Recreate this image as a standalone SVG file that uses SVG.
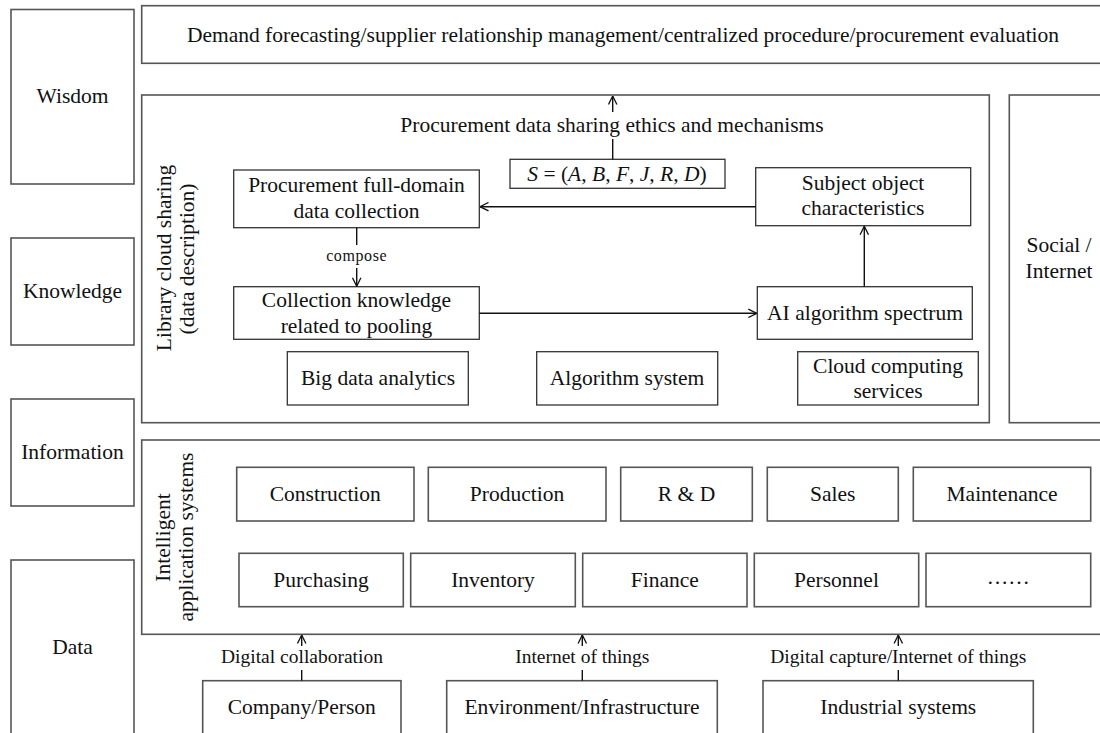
<svg xmlns="http://www.w3.org/2000/svg" width="1100" height="733" viewBox="0 0 1100 733">
  <style>
    text { font-family: "Liberation Serif", "Times New Roman", serif; fill: #111; }
    .t { font-size: 21.5px; text-anchor: middle; }
    .lbl { font-size: 19.5px; text-anchor: middle; }
    .sm { font-size: 16px; text-anchor: middle; letter-spacing: 0.6px; }
    .outer { fill: #fff; stroke: #555; stroke-width: 1.6; }
    .box { fill: #fff; stroke: #333; stroke-width: 1.3; }
    .wire { fill: none; stroke: #111; stroke-width: 1.4; }
    .it { font-style: italic; }
  </style>
  <defs>
    <marker id="arr" viewBox="0 0 10 10" refX="9.5" refY="5" markerWidth="10" markerHeight="10" markerUnits="userSpaceOnUse" orient="auto">
      <path d="M1,0.8 L9.5,5 L1,9.2" fill="none" stroke="#111" stroke-width="1.3"/>
    </marker>
  </defs>
  <rect width="1100" height="733" fill="#fff"/>

  <!-- level column -->
  <g id="wisdom"><rect class="outer" x="11" y="9.5" width="123" height="174.5"/><text class="t" x="72.5" y="103">Wisdom</text></g>
  <g id="knowledge"><rect class="outer" x="11" y="238" width="123" height="107"/><text class="t" x="72.5" y="298">Knowledge</text></g>
  <g id="information"><rect class="outer" x="11" y="399" width="123" height="107"/><text class="t" x="72.5" y="459">Information</text></g>
  <g id="data"><rect class="outer" x="11" y="560" width="123" height="190"/><text class="t" x="72.5" y="654">Data</text></g>

  <!-- wisdom layer -->
  <g id="decision"><rect class="outer" x="141.7" y="5.7" width="964" height="57.6"/>
    <text class="t" x="623" y="42">Demand forecasting/supplier relationship management/centralized procedure/procurement evaluation</text></g>

  <!-- library cloud sharing layer -->
  <g id="library">
    <rect class="outer" x="141.7" y="95" width="847.6" height="327.7"/>
    <text class="t" transform="translate(171,258) rotate(-90)">Library cloud sharing</text>
    <text class="t" transform="translate(194,259) rotate(-90)">(data description)</text>
    <text class="t" x="612" y="132">Procurement data sharing ethics and mechanisms</text>
  </g>
  <g id="social"><rect class="outer" x="1009.3" y="95" width="100" height="327.7"/>
    <text class="t" x="1059" y="252">Social /</text><text class="t" x="1059" y="278">Internet</text></g>

  <g id="formula"><rect class="box" x="510" y="159.3" width="215" height="29"/>
    <text class="t" x="617" y="181"><tspan class="it">S</tspan> = (<tspan class="it">A</tspan>, <tspan class="it">B</tspan>, <tspan class="it">F</tspan>, <tspan class="it">J</tspan>, <tspan class="it">R</tspan>, <tspan class="it">D</tspan>)</text></g>
  <g id="collection"><rect class="box" x="233.7" y="170" width="245.6" height="57.7"/>
    <text class="t" x="356.5" y="192">Procurement full-domain</text><text class="t" x="356.5" y="218">data collection</text></g>
  <g id="subject"><rect class="box" x="755.7" y="167.7" width="215" height="58"/>
    <text class="t" x="863" y="189.5">Subject object</text><text class="t" x="863" y="215">characteristics</text></g>
  <g id="knowledge-pool"><rect class="box" x="233.7" y="286.7" width="245.6" height="52.6"/>
    <text class="t" x="356.5" y="307">Collection knowledge</text><text class="t" x="356.5" y="332.5">related to pooling</text></g>
  <g id="ai"><rect class="box" x="757.3" y="286.7" width="215" height="52.6"/>
    <text class="t" x="865" y="320">AI algorithm spectrum</text></g>
  <g id="bigdata"><rect class="box" x="287.3" y="351.7" width="181" height="53.3"/>
    <text class="t" x="378" y="385">Big data analytics</text></g>
  <g id="algorithm"><rect class="box" x="536.7" y="351.7" width="181" height="53.3"/>
    <text class="t" x="627" y="385">Algorithm system</text></g>
  <g id="cloud"><rect class="box" x="797.7" y="351.7" width="180.6" height="53.3"/>
    <text class="t" x="888" y="373">Cloud computing</text><text class="t" x="888" y="397.5">services</text></g>

  <!-- intelligent application systems layer -->
  <g id="apps">
    <rect class="outer" x="141.7" y="440" width="970" height="194.3"/>
    <text class="t" transform="translate(170,537.5) rotate(-90)">Intelligent</text>
    <text class="t" transform="translate(193,537) rotate(-90)">application systems</text>
  </g>
  <g id="construction"><rect class="outer" x="236.7" y="467.3" width="177.3" height="53.7"/><text class="t" x="325.3" y="501">Construction</text></g>
  <g id="production"><rect class="outer" x="428.3" y="467.3" width="177.7" height="53.7"/><text class="t" x="517" y="501">Production</text></g>
  <g id="rnd"><rect class="outer" x="620.7" y="467.3" width="131.6" height="53.7"/><text class="t" x="686.5" y="501">R &amp; D</text></g>
  <g id="sales"><rect class="outer" x="767.3" y="467.3" width="131" height="53.7"/><text class="t" x="832.8" y="501">Sales</text></g>
  <g id="maintenance"><rect class="outer" x="913.3" y="467.3" width="177.4" height="53.7"/><text class="t" x="1002" y="501">Maintenance</text></g>
  <g id="purchasing"><rect class="outer" x="239" y="553.3" width="164.3" height="53.4"/><text class="t" x="321" y="587">Purchasing</text></g>
  <g id="inventory"><rect class="outer" x="410.7" y="553.3" width="164.6" height="53.4"/><text class="t" x="493" y="587">Inventory</text></g>
  <g id="finance"><rect class="outer" x="582.7" y="553.3" width="164.3" height="53.4"/><text class="t" x="664.8" y="587">Finance</text></g>
  <g id="personnel"><rect class="outer" x="754.3" y="553.3" width="164.4" height="53.4"/><text class="t" x="836.5" y="587">Personnel</text></g>
  <g id="more"><rect class="outer" x="926" y="553.3" width="164.7" height="53.4"/><text class="t" x="1008.3" y="584">……</text></g>

  <!-- data sources -->
  <g id="company"><rect class="outer" x="202.7" y="680.7" width="198.3" height="70"/><text class="t" x="301.7" y="714">Company/Person</text></g>
  <g id="environment"><rect class="outer" x="446.7" y="680.7" width="270.6" height="70"/><text class="t" x="582" y="714">Environment/Infrastructure</text></g>
  <g id="industrial"><rect class="outer" x="763" y="680.7" width="270.3" height="70"/><text class="t" x="898.3" y="714">Industrial systems</text></g>

  <!-- connectors -->
  <g id="connectors">
    <line class="wire" x1="612.7" y1="112" x2="612.7" y2="96" marker-end="url(#arr)"/>
    <line class="wire" x1="612.7" y1="159.3" x2="612.7" y2="139"/>
    <line class="wire" x1="755.7" y1="206.7" x2="480" y2="206.7" marker-end="url(#arr)"/>
    <line class="wire" x1="356.7" y1="227.7" x2="356.7" y2="245"/>
    <line class="wire" x1="356.7" y1="268" x2="356.7" y2="286.2" marker-end="url(#arr)"/>
    <text class="sm" x="356.7" y="261">compose</text>
    <line class="wire" x1="479.3" y1="313.3" x2="756.8" y2="313.3" marker-end="url(#arr)"/>
    <line class="wire" x1="864.3" y1="286.7" x2="864.3" y2="226.2" marker-end="url(#arr)"/>

    <line class="wire" x1="301.7" y1="646" x2="301.7" y2="635" marker-end="url(#arr)"/>
    <line class="wire" x1="301.7" y1="670" x2="301.7" y2="680.7"/>
    <text class="lbl" x="302" y="663">Digital collaboration</text>
    <line class="wire" x1="582.3" y1="646" x2="582.3" y2="635" marker-end="url(#arr)"/>
    <line class="wire" x1="582.3" y1="670" x2="582.3" y2="680.7"/>
    <text class="lbl" x="582.3" y="663">Internet of things</text>
    <line class="wire" x1="898.3" y1="646" x2="898.3" y2="635" marker-end="url(#arr)"/>
    <line class="wire" x1="898.3" y1="670" x2="898.3" y2="680.7"/>
    <text class="lbl" x="898.3" y="663">Digital capture/Internet of things</text>
  </g>
</svg>
